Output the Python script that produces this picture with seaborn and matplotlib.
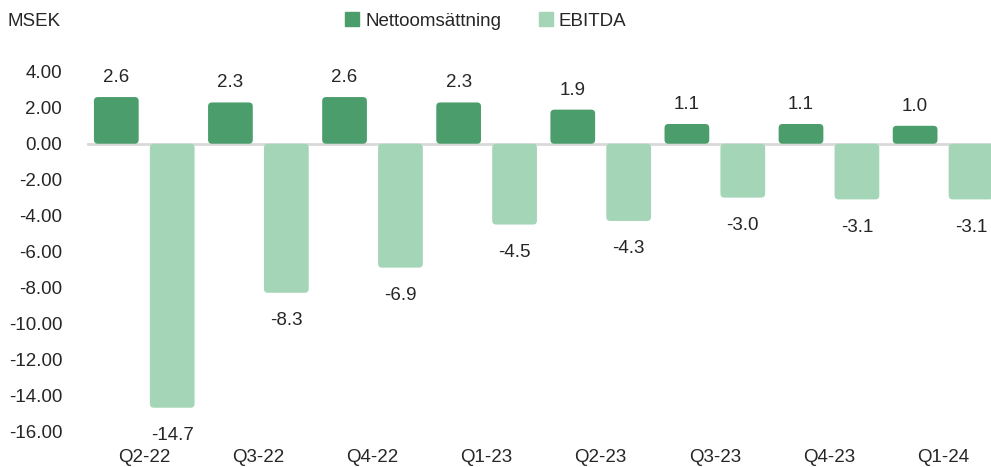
import pandas as pd
import seaborn as sns
import matplotlib.pyplot as plt
from matplotlib.patches import FancyBboxPatch
import matplotlib as mpl

quarters = ["Q2-22", "Q3-22", "Q4-22", "Q1-23", "Q2-23", "Q3-23", "Q4-23", "Q1-24"]
nettoomsattning = [2.6, 2.3, 2.6, 2.3, 1.9, 1.1, 1.1, 1.0]
ebitda = [-14.7, -8.3, -6.9, -4.5, -4.3, -3.0, -3.1, -3.1]
series = ["Nettoomsättning", "EBITDA"]
colors = ["#4b9e6c", "#a3d5b6"]

df = pd.DataFrame(
    {
        "quarter": quarters * 2,
        "value": nettoomsattning + ebitda,
        "series": [series[0]] * len(quarters) + [series[1]] * len(quarters),
    }
)

sns.set_style("white")
mpl.rcParams["font.family"] = ["Liberation Sans", "DejaVu Sans"]
mpl.rcParams["font.size"] = 13.5

fig = plt.figure(figsize=(9.91, 4.67), dpi=100)
ax = fig.add_axes([0.088, 0.077, 0.912, 0.769])

sns.barplot(
    data=df,
    x="quarter",
    y="value",
    hue="series",
    palette=colors,
    width=0.98,
    gap=0.2,
    saturation=1,
    ax=ax,
)

ax.set_ylim(-16, 4)
ax.set_xlim(-0.5, 7.42)
ax.set_yticks(range(-16, 5, 2))
ax.set_yticklabels([f"{v:.2f}" for v in range(-16, 5, 2)])
ax.set_xlabel("")
ax.set_ylabel("")
sns.despine(ax=ax, left=True, bottom=True)
ax.tick_params(axis="x", length=0, pad=13)
ax.tick_params(axis="y", length=0, pad=18)
ax.axhline(0, color="#d9d9d9", lw=2, zorder=0)

ax.bar_label(ax.containers[0], fmt="%.1f", padding=8, fontsize=13.5)
ax.bar_label(ax.containers[1], fmt="%.1f", padding=14, fontsize=13.5)

# rounded bar corners
for p in list(ax.patches):
    x, y = p.get_x(), p.get_y()
    w, h = p.get_width(), p.get_height()
    p.remove()
    if w == 0 or h == 0:
        continue
    if h < 0:
        y, h = y + h, -h
    rb = FancyBboxPatch(
        (x, y), w, h,
        boxstyle="round,pad=0,rounding_size=0.035",
        mutation_aspect=6.3,
        facecolor=p.get_facecolor(),
        edgecolor="none",
        zorder=2,
    )
    ax.add_patch(rb)

ax.get_legend().remove()
handles = [plt.Rectangle((0, 0), 1, 1, color=c) for c in colors]
fig.legend(
    handles,
    series,
    loc="center",
    bbox_to_anchor=(0.49, 0.955),
    ncol=2,
    frameon=False,
    handlelength=0.75,
    handleheight=0.75,
    handletextpad=0.3,
    columnspacing=2.0,
    fontsize=13.5,
)

fig.text(0.008, 0.955, "MSEK", ha="left", va="center", fontsize=13.5)

fig.savefig("out.png", dpi=100)
